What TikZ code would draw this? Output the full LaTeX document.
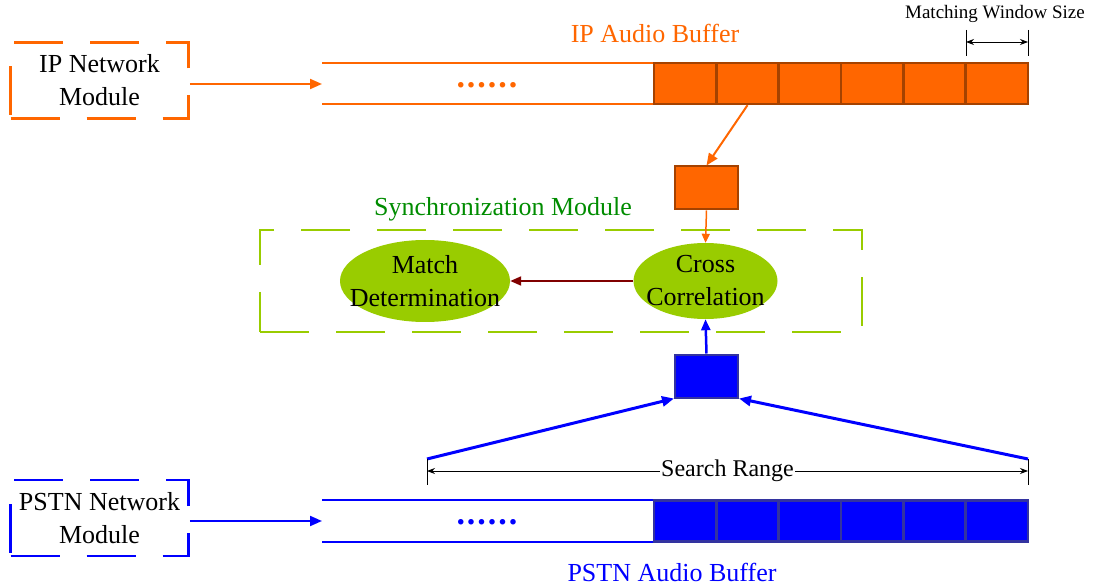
\documentclass[tikz,border=0pt]{standalone}
\usepackage{fontspec}
\setmainfont{Liberation Serif}
\usetikzlibrary{arrows.meta,shapes.geometric}

\definecolor{iporange}{RGB}{255,102,0}
\definecolor{ipborder}{RGB}{165,66,0}
\definecolor{pstnblue}{RGB}{0,0,255}
\definecolor{pstnborder}{RGB}{51,51,160}
\definecolor{synclime}{RGB}{153,204,0}
\definecolor{syncgreen}{RGB}{0,140,0}
\definecolor{corrred}{RGB}{128,0,0}

\tikzset{
  modbox/.style={draw, line width=2.6pt, dash pattern=on 49pt off 27pt, minimum width=178pt, minimum height=76pt, align=center, inner sep=0pt},
  bufcell/.style={draw, line width=2.4pt, minimum width=62.33pt, minimum height=41pt, inner sep=0pt},
  winbox/.style={draw, line width=2pt, minimum width=63pt, minimum height=43pt, inner sep=0pt},
  procell/.style={ellipse, fill=synclime, align=center, inner xsep=-30pt, inner ysep=-10pt},
  bigtip/.style={-{Triangle[length=12pt,width=10pt]}},
  dimline/.style={{Stealth[length=8pt,width=6pt]}-{Stealth[length=8pt,width=6pt]}, line width=0.8pt},
}
\newcommand{\bufdots}{{\fontsize{34}{34}\selectfont\bfseries .\kern2pt.\kern2pt.\kern2pt.\kern2pt.\kern2pt.}}

\begin{document}
\begin{tikzpicture}[x=1pt,y=1pt,yscale=-1,xscale=1,font=\fontsize{26}{33}\selectfont]
\useasboundingbox (0,0) rectangle (1096,588);

%Shape: IP module
\node [modbox, draw=iporange] (ipmod) at (99.5,80.5) {IP Network\\Module};
%Shape: IP buffer, open part
\draw [iporange, line width=2pt] (322,63) -- (654,63) (322,104) -- (654,104);
\coordinate (ipin) at (322,84);
%Shape: IP buffer cells
\foreach \i in {0,...,5}
  \node [bufcell, draw=ipborder, fill=iporange] (ipcell\i) at ({685.17+62.33*\i},83.5) {};
%Straight Lines
\draw [bigtip, iporange, line width=2pt] (ipmod.east |- ipin) -- (ipin);

% Text Node
\node [text=iporange] (ipdots) at (487,85) {\bufdots};
% Text Node
\node [text=iporange] (iplabel) at (655,33) {IP Audio Buffer};
% Text Node
\node [font=\fontsize{19}{22}\selectfont] (mwlabel) at (995,14) {Matching Window Size};

%Matching window size
\coordinate (mwleft) at (966,42);
\coordinate (mwright) at (1028,42);
\draw [line width=0.8pt] (966,30) -- (966,56) (1028,30) -- (1028,56);
\draw [dimline] (mwleft) -- (mwright);

%Shape: IP window
\node [winbox, draw=ipborder, fill=iporange] (ipwin) at (706.5,188) {};
\draw [bigtip, iporange, line width=2pt] (ipcell1.south) -- (ipwin.north);

%Shape: Synchronization module
\node [text=syncgreen] (synclabel) at (503,209) {Synchronization Module};
\node [draw=synclime, line width=2.6pt, dash pattern=on 49pt off 27pt, minimum width=602pt, minimum height=102pt] (sync) at (561,281) {};
\node [procell, minimum width=170pt, minimum height=82pt] (match) at (425,281) {Match\\Determination};
\node [procell, minimum width=144pt, minimum height=76pt] (cross) at (705.5,281) {Cross\\Correlation};

\draw [-{Triangle[length=9pt,width=8pt]}, iporange, line width=1.5pt] (ipwin.south) -- (cross.north);
\draw [-{Triangle[length=11pt,width=9pt]}, corrred, line width=2pt] (cross.west) -- (match.east);

%Shape: PSTN window
\node [winbox, draw=pstnborder, fill=pstnblue] (pstnwin) at (706.5,376) {};
\draw [-{Triangle[length=11pt,width=9pt]}, pstnblue, line width=2.5pt] (pstnwin.north) -- (cross.south);

%Search range
\coordinate (srleft) at (427,459);
\coordinate (srright) at (1028,459);
\draw [-{Triangle[length=12pt,width=10pt]}, pstnblue, line width=3pt] (srleft) -- (pstnwin.south west);
\draw [-{Triangle[length=12pt,width=10pt]}, pstnblue, line width=3pt] (srright) -- (pstnwin.south east);
\coordinate (srdimleft) at (427,471);
\coordinate (srdimright) at (1028,471);
\draw [line width=0.8pt] (427,459) -- (427,485) (1028,459) -- (1028,485);
\draw [dimline] (srdimleft) -- (srdimright) node [midway, fill=white, inner sep=1pt, font=\fontsize{24}{30}\selectfont] (srlabel) {Search Range};

%Shape: PSTN module
\node [modbox, draw=pstnblue] (pstnmod) at (99.5,518) {PSTN Network\\Module};
%Shape: PSTN buffer, open part
\draw [pstnblue, line width=2pt] (322,500) -- (654,500) (322,542) -- (654,542);
\coordinate (pstnin) at (322,521);
%Shape: PSTN buffer cells
\foreach \i in {0,...,5}
  \node [bufcell, draw=pstnborder, fill=pstnblue] (pstncell\i) at ({685.17+62.33*\i},521) {};
%Straight Lines
\draw [bigtip, pstnblue, line width=2pt] (pstnmod.east |- pstnin) -- (pstnin);

% Text Node
\node [text=pstnblue] (pstndots) at (487,522) {\bufdots};
% Text Node
\node [text=pstnblue] (pstnlabel) at (672,572) {PSTN Audio Buffer};

\end{tikzpicture}
\end{document}
